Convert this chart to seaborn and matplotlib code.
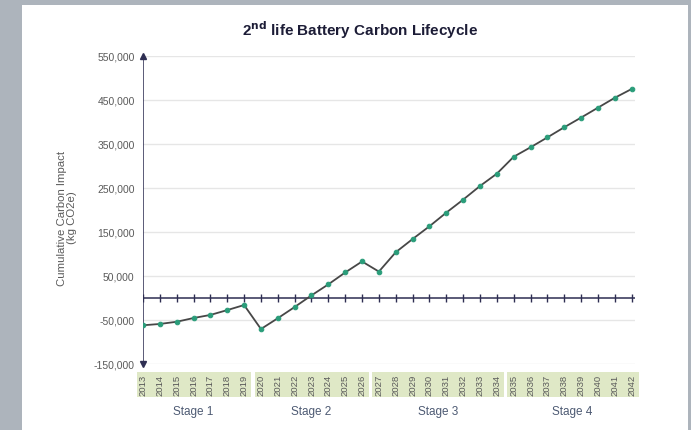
import numpy as np
import pandas as pd
import matplotlib
matplotlib.use('Agg')
import matplotlib.pyplot as plt
import matplotlib.transforms as mtransforms
from matplotlib.patches import Rectangle
import seaborn as sns

# data
years = list(range(2013, 2043))
carbon = [-62000, -59000, -54000, -45500, -38500, -27500, -16000,
          -70500, -46000, -20500, 6000, 31000, 58000, 83000,
          60000, 104000, 134000, 163000, 194000, 223500, 254500, 282500,
          321000, 342500, 365000, 388000, 410000, 432500, 455000, 475000]
stage_names = ['Stage 1', 'Stage 2', 'Stage 3', 'Stage 4']
stage_sizes = [7, 7, 8, 8]
y_ticks = [-150000, -50000, 50000, 150000, 250000, 350000, 450000, 550000]

df = pd.DataFrame({'idx': np.arange(len(years)), 'year': years, 'carbon': carbon})

sns.set_theme(style='white')
plt.rcParams['font.family'] = ['Liberation Sans', 'DejaVu Sans']

W, H = 691, 431
fig = plt.figure(figsize=(W / 100, H / 100), dpi=100)
fig.patch.set_facecolor('#adb4bc')
fig.patches.append(Rectangle((22 / W, 0), (688 - 22) / W, (H - 6) / H,
                             transform=fig.transFigure, facecolor='white',
                             edgecolor='none', zorder=-10))

ax = fig.add_axes([143 / W, (H - 365) / H, (635 - 143) / W, (365 - 57) / H])
ax.set_facecolor('none')
ax.set_zorder(5)

navy = '#2e2e52'
grey_txt = '#5a5a5a'

# gridlines
for v in y_ticks:
    ax.axhline(v, color='#e6e6e6', lw=1, zorder=1)

# zero line with category ticks
ax.axhline(0, color=navy, lw=1.1, zorder=2)
ax.plot(df['idx'], np.zeros(len(df)), ls='none', marker='|', ms=6,
        mew=1, color=navy, zorder=2)

# y axis with arrows
ax.axvline(0, color=navy, lw=1.1, zorder=2)
ax.plot([0], [550000], marker='^', ms=5, color=navy, clip_on=False, zorder=3)
ax.plot([0], [-150000], marker='v', ms=5, color=navy, clip_on=False, zorder=3)

sns.lineplot(data=df, x='idx', y='carbon', ax=ax, color='#474747', lw=1.3,
             marker='o', markersize=3.3, markerfacecolor='#2a9d7a',
             markeredgecolor='#2a9d7a', zorder=4)

ax.set_xlim(0, 29.2)
ax.set_ylim(-150000, 550000)
ax.set_yticks(y_ticks)
ax.set_yticklabels([f'{v:,}' for v in y_ticks], fontsize=7.5, color=grey_txt)
ax.tick_params(axis='y', length=0, pad=6)
ax.set_xticks([])
ax.set_xlabel('')
ax.set_ylabel('')
for s in ax.spines.values():
    s.set_visible(False)

# year labels in green boxes, grouped by stage
trans = mtransforms.blended_transform_factory(ax.transData, fig.transFigure)
start = 0
for name, n in zip(stage_names, stage_sizes):
    end = start + n - 1
    ax.add_patch(Rectangle((start - 0.38, (H - 398) / H), (end - start) + 0.8,
                           25 / H, transform=trans, facecolor='#dfe8c6',
                           edgecolor='none', clip_on=False, zorder=1))
    for i in range(start, end + 1):
        ax.text(i, (H - 385.5) / H, str(years[i]), transform=trans,
                rotation=90, ha='center', va='center', fontsize=6.8,
                color=grey_txt)
    ax.text((start + end) / 2, (H - 412) / H, name, transform=trans,
            ha='center', va='center', fontsize=8.5, color='#4d5a73')
    start += n

fig.text(67 / W, (H - 218) / H, 'Cumulative Carbon Impact\n(kg CO2e)',
         rotation=90, ha='center', va='center', fontsize=8.2, color=grey_txt,
         linespacing=1.05)

fig.text(360 / W, (H - 30) / H, r'2$^{\mathbf{nd}}$ life Battery Carbon Lifecycle',
         ha='center', va='center', fontsize=11, fontweight='bold', color='#1c1c36')

fig.savefig('out.png', dpi=100, facecolor=fig.get_facecolor())
